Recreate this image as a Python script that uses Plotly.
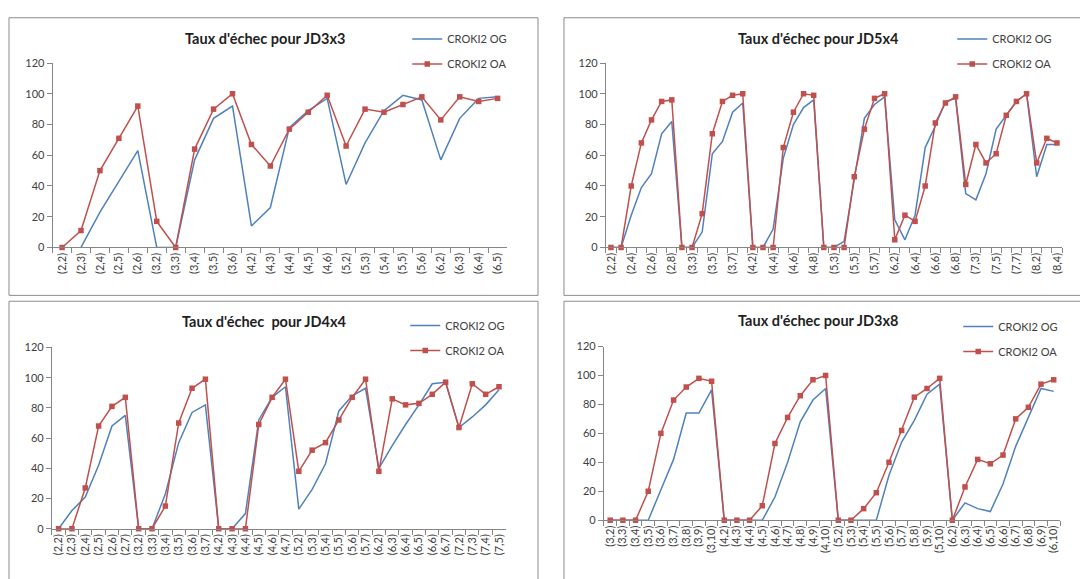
import plotly.graph_objects as go

W, H = 1080, 579

# ---------------- data ----------------
titles = ["Taux d'échec pour JD3x3", "Taux d'échec pour JD5x4",
          "Taux d'échec  pour JD4x4", "Taux d'échec pour JD3x8"]
series_names = ["CROKI2 OG", "CROKI2 OA"]

cat1 = ["(2,2)", "(2,3)", "(2,4)", "(2,5)", "(2,6)", "(3,2)", "(3,3)", "(3,4)", "(3,5)", "(3,6)",
        "(4,2)", "(4,3)", "(4,4)", "(4,5)", "(4,6)", "(5,2)", "(5,3)", "(5,4)", "(5,5)", "(5,6)",
        "(6,2)", "(6,3)", "(6,4)", "(6,5)"]
og1 = [None, 0, 23, 43, 63, 0, 0, 57, 84, 92, 14, 26, 78, 89, 97, 41, 68, 89, 99, 96, 57, 84, 97, 98]
oa1 = [0, 11, 50, 71, 92, 17, 0, 64, 90, 100, 67, 53, 77, 88, 99, 66, 90, 88, 93, 98, 83, 98, 95, 97]

cat2 = ["(2,2)", "(2,3)", "(2,4)", "(2,5)", "(2,6)", "(2,7)", "(2,8)",
        "(3,2)", "(3,3)", "(3,4)", "(3,5)", "(3,6)", "(3,7)", "(3,8)",
        "(4,2)", "(4,3)", "(4,4)", "(4,5)", "(4,6)", "(4,7)", "(4,8)",
        "(5,2)", "(5,3)", "(5,4)", "(5,5)", "(5,6)", "(5,7)", "(5,8)",
        "(6,2)", "(6,3)", "(6,4)", "(6,5)", "(6,6)", "(6,7)", "(6,8)",
        "(7,2)", "(7,3)", "(7,4)", "(7,5)", "(7,6)", "(7,7)", "(7,8)",
        "(8,2)", "(8,3)", "(8,4)"]
og2 = [0, 0, 21, 39, 48, 74, 82, 0, 0, 10, 61, 69, 88, 94, 0, 0, 12, 58, 80, 91, 96,
       0, 0, 4, 44, 84, 93, 98, 18, 5, 21, 65, 79, 95, 97, 35, 31, 48, 77, 86, 95, 100,
       46, 67, 67]
oa2 = [0, 0, 40, 68, 83, 95, 96, 0, 0, 22, 74, 95, 99, 100, 0, 0, 0, 65, 88, 100, 99,
       0, 0, 0, 46, 77, 97, 100, 5, 21, 17, 40, 81, 94, 98, 41, 67, 55, 61, 86, 95, 100,
       55, 71, 68]

cat3 = ["(2,2)", "(2,3)", "(2,4)", "(2,5)", "(2,6)", "(2,7)",
        "(3,2)", "(3,3)", "(3,4)", "(3,5)", "(3,6)", "(3,7)",
        "(4,2)", "(4,3)", "(4,4)", "(4,5)", "(4,6)", "(4,7)",
        "(5,2)", "(5,3)", "(5,4)", "(5,5)", "(5,6)", "(5,7)",
        "(6,2)", "(6,3)", "(6,4)", "(6,5)", "(6,6)", "(6,7)",
        "(7,2)", "(7,3)", "(7,4)", "(7,5)"]
og3 = [0, 12, 21, 42, 68, 75, 0, 0, 23, 57, 77, 82, 0, 0, 10, 72, 87, 94,
       13, 26, 43, 78, 88, 93, 40, 55, 69, 82, 96, 97, 67, 74, 82, 92]
oa3 = [0, 0, 27, 68, 81, 87, 0, 0, 15, 70, 93, 99, 0, 0, 0, 69, 87, 99,
       38, 52, 57, 72, 87, 99, 38, 86, 82, 83, 89, 97, 67, 96, 89, 94]

cat4 = ["(3,2)", "(3,3)", "(3,4)", "(3,5)", "(3,6)", "(3,7)", "(3,8)", "(3,9)", "(3,10)",
        "(4,2)", "(4,3)", "(4,4)", "(4,5)", "(4,6)", "(4,7)", "(4,8)", "(4,9)", "(4,10)",
        "(5,2)", "(5,3)", "(5,4)", "(5,5)", "(5,6)", "(5,7)", "(5,8)", "(5,9)", "(5,10)",
        "(6,2)", "(6,3)", "(6,4)", "(6,5)", "(6,6)", "(6,7)", "(6,8)", "(6,9)", "(6,10)"]
og4 = [0, 0, 0, 0, 21, 42, 74, 74, 90, 0, 0, 0, 0, 16, 40, 68, 83, 91,
       0, 0, 0, 0, 31, 54, 69, 87, 94, 0, 12, 8, 6, 25, 51, 71, 91, 89]
oa4 = [0, 0, 0, 20, 60, 83, 92, 98, 96, 0, 0, 0, 10, 53, 71, 86, 97, 100,
       0, 0, 8, 19, 40, 62, 85, 91, 98, 0, 23, 42, 39, 45, 70, 78, 94, 97]

y_ticks = [0, 20, 40, 60, 80, 100, 120]

# ---------------- layout helpers ----------------
def px(x):
    return x / W

def py(y):
    return 1 - y / H

FONT = "Lato, 'Open Sans', sans-serif"
BLUE = "#4F81BD"
RED = "#C0504D"
AXC = "#868686"
TXT = "#404040"

panels = [
    dict(c=cat1, og=og1, oa=oa1, x=(50.7, 506), y=(57.3, 246), t=(263, 32), lg=(406, 18), step=1,
         box=(7, 11, 537, 295)),
    dict(c=cat2, og=og2, oa=oa2, x=(605, 1062), y=(57.3, 246), t=(818, 32), lg=(952, 18), step=2,
         box=(563, 11, 1090, 295)),
    dict(c=cat3, og=og3, oa=oa3, x=(50, 504.6), y=(348.3, 533.7), t=(263, 322), lg=(404, 311), step=1,
         box=(7, 301, 537, 590)),
    dict(c=cat4, og=og4, oa=oa4, x=(603, 1060), y=(347.3, 525), t=(818, 321), lg=(958, 312), step=1,
         box=(563, 301, 1090, 590)),
]

fig = go.Figure()
shapes = []
annotations = []
layout = dict(width=W, height=H, margin=dict(l=0, r=0, t=0, b=0),
              paper_bgcolor="white", plot_bgcolor="white",
              font=dict(family=FONT, color=TXT, size=11))

for i, p in enumerate(panels, start=1):
    sfx = "" if i == 1 else str(i)
    xa, ya = "x" + sfx, "y" + sfx
    lg = "legend" + sfx
    n = len(p["c"])
    fig.add_trace(go.Scatter(x=p["c"], y=p["og"], name=series_names[0], mode="lines",
                             line=dict(color=BLUE, width=1.5), xaxis=xa, yaxis=ya,
                             legend=lg, legendgroup=f"og{i}", cliponaxis=False,
                             connectgaps=False))
    fig.add_trace(go.Scatter(x=p["c"], y=p["oa"], name=series_names[1], mode="lines+markers",
                             line=dict(color=RED, width=1.5),
                             marker=dict(symbol="square", size=5.5, color=RED),
                             xaxis=xa, yaxis=ya, legend=lg, legendgroup=f"oa{i}",
                             cliponaxis=False))
    ticktext = [c if k % p["step"] == 0 else "" for k, c in enumerate(p["c"])]
    layout["xaxis" + sfx] = dict(
        domain=[px(p["x"][0]), px(p["x"][1])], anchor=ya, type="category",
        categoryorder="array", categoryarray=p["c"], range=[-0.5, n - 0.5],
        tickmode="array", tickvals=p["c"], ticktext=ticktext, tickson="boundaries",
        ticks="outside", ticklen=5, tickcolor=AXC, tickwidth=1,
        showline=True, linecolor=AXC, linewidth=1, showgrid=False, zeroline=False,
        tickangle=-90, tickfont=dict(size=11, color=TXT, family=FONT), fixedrange=True)
    layout["yaxis" + sfx] = dict(
        domain=[py(p["y"][1]), py(p["y"][0])], anchor=xa, range=[0, 120],
        tickmode="array", tickvals=y_ticks, ticks="outside", ticklen=5, tickcolor=AXC,
        showline=True, linecolor=AXC, linewidth=1, showgrid=False, zeroline=False,
        tickfont=dict(size=11, color=TXT, family=FONT), fixedrange=True)
    layout[lg] = dict(x=px(p["lg"][0]), y=py(p["lg"][1]), xanchor="left", yanchor="top",
                      bgcolor="rgba(0,0,0,0)", font=dict(size=11, color=TXT, family=FONT),
                      traceorder="grouped", tracegroupgap=6, itemwidth=30)
    b = p["box"]
    shapes.append(dict(type="rect", xref="paper", yref="paper",
                       x0=px(b[0]), x1=px(b[2]), y0=py(b[3]), y1=py(b[1]),
                       line=dict(color="#8C8C8C", width=1), fillcolor="rgba(0,0,0,0)",
                       layer="below"))
    annotations.append(dict(text="<b>" + titles[i - 1] + "</b>", xref="paper", yref="paper",
                            x=px(p["t"][0]), y=py(p["t"][1]), xanchor="center", yanchor="middle",
                            showarrow=False, font=dict(size=14.5, color="#1F1F1F", family=FONT)))

layout["shapes"] = shapes
layout["annotations"] = annotations
fig.update_layout(**layout)
fig.write_html("out.html", config={"displayModeBar": False},
               post_script="document.body.style.margin='0px';document.body.style.overflow='hidden';")
